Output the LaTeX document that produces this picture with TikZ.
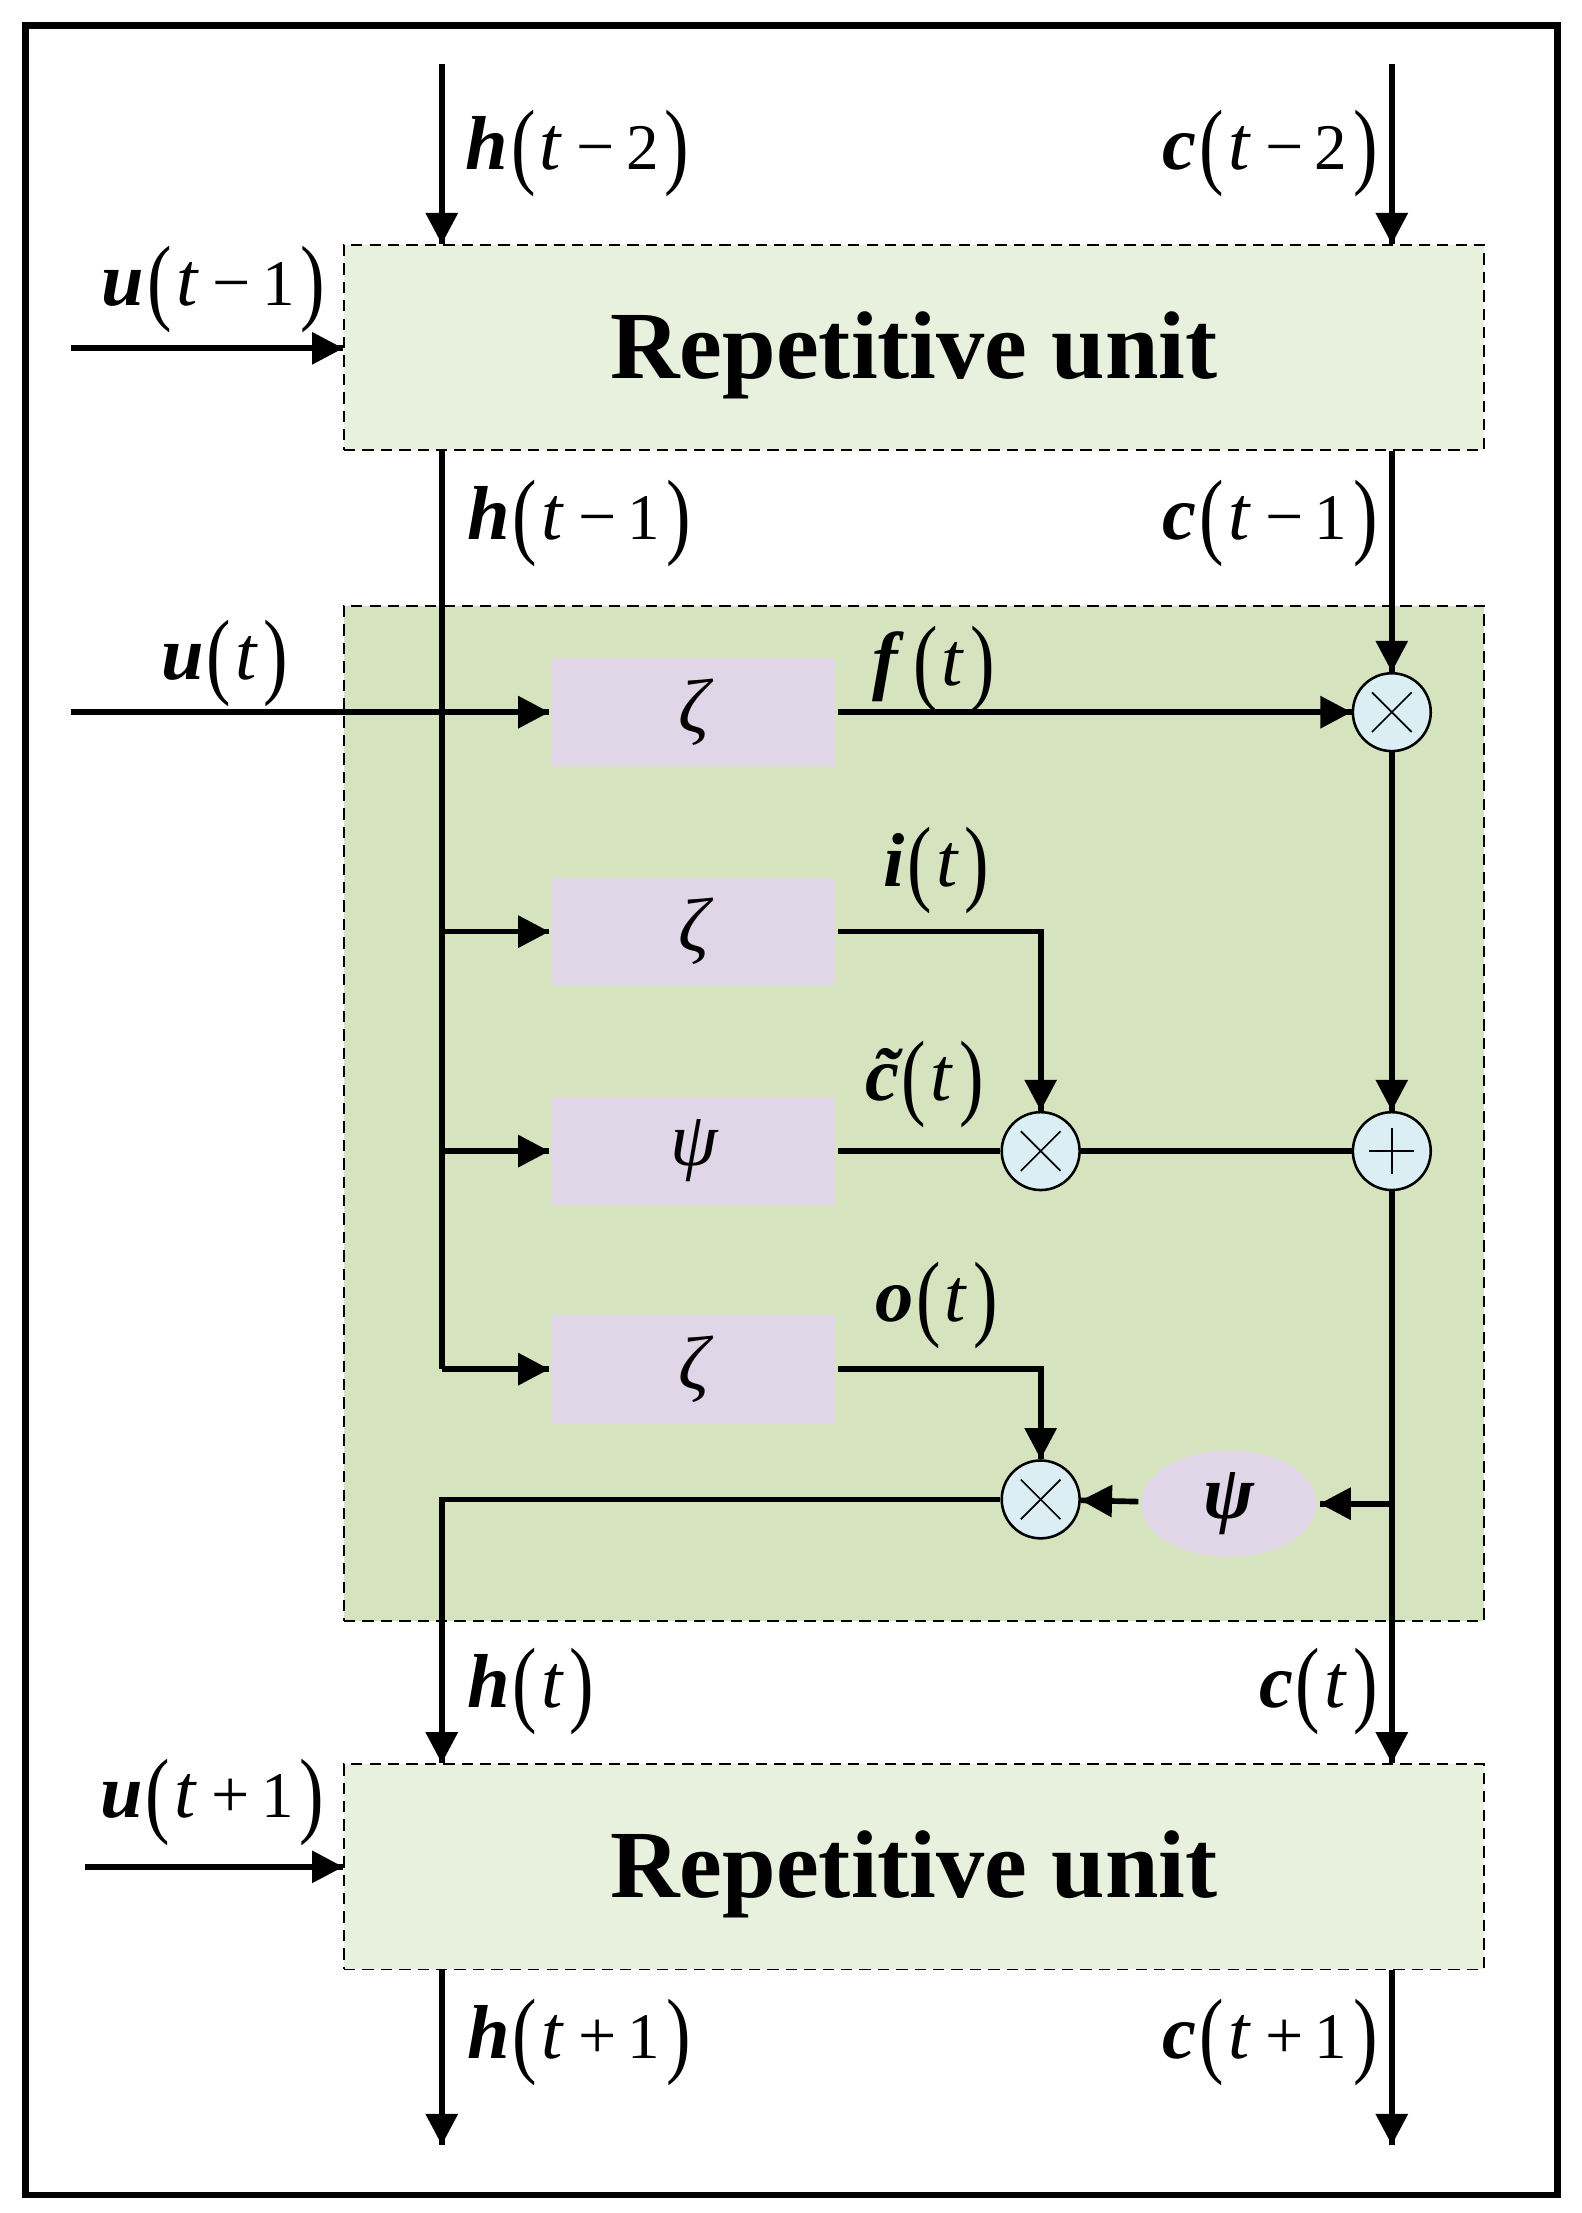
\documentclass[tikz,border=0pt]{standalone}
\usepackage{fontspec}
\setmainfont{Liberation Serif}
\usetikzlibrary{arrows.meta,shapes.geometric,decorations.markings}
\definecolor{unitgreen}{HTML}{E8F0DE}
\definecolor{cellgreen}{HTML}{D5E3BF}
\definecolor{gatepink}{HTML}{E1D6E8}
\definecolor{opblue}{HTML}{DAEEF3}
\newcommand{\Lp}{\kern1pt\raisebox{-2.5pt}{\fontsize{26}{26}\selectfont\scalebox{1}[1.3]{(}}\kern1.5pt}
\newcommand{\Rp}{\kern2pt\raisebox{-2.5pt}{\fontsize{26}{26}\selectfont\scalebox{1}[1.3]{)}}}
\newcommand{\Sig}[2]{\textbf{\textit{#1}}\Lp#2\Rp}
\newcommand{\Tv}{\textit{t}}
\newcommand{\Mi}{\kern5pt{\fontsize{24}{24}\selectfont −}\kern4pt}
\newcommand{\Pl}{\kern5pt{\fontsize{24}{24}\selectfont +}\kern4pt}
\newcommand{\Dg}[1]{{\fontsize{23}{23}\selectfont #1}}
\newcommand{\Ct}{\ooalign{\textbf{\textit{c}}\cr\hidewidth\kern2pt\textbf{˜}\hidewidth\cr}}
\tikzset{->/.style = {decoration={markings, mark=at position 1 with {\arrow{Triangle[length=11pt,width=11pt]}}}, postaction={decorate}}}
\tikzset{unit/.style = {draw, line width=0.6pt, dash pattern=on 4pt off 2.5pt, fill=unitgreen, minimum width=402.5pt, minimum height=72.5pt, text height=21.5pt, text depth=0pt, font=\fontsize{34}{36}\selectfont\bfseries}}
\tikzset{cell/.style = {draw, line width=0.6pt, dash pattern=on 4pt off 2.5pt, fill=cellgreen, minimum width=402.5pt, minimum height=358.5pt}}
\tikzset{gate/.style = {fill=gatepink, minimum width=100pt, minimum height=38pt, font=\fontsize{27}{30}\selectfont\itshape}}
\tikzset{op/.style = {draw, circle, fill=opblue, line width=0.9pt, minimum size=27.5pt, inner sep=0}}
\tikzset{mul/.style = {op, path picture={
	\draw[line width=0.6pt] ([shift={(-7pt,-7pt)}]path picture bounding box.center) -- ([shift={(7pt,7pt)}]path picture bounding box.center);
	\draw[line width=0.6pt] ([shift={(-7pt,7pt)}]path picture bounding box.center) -- ([shift={(7pt,-7pt)}]path picture bounding box.center);}}}
\tikzset{add/.style = {op, path picture={
	\draw[line width=0.6pt] ([shift={(-8pt,0pt)}]path picture bounding box.center) -- ([shift={(8pt,0pt)}]path picture bounding box.center);
	\draw[line width=0.6pt] ([shift={(0pt,-8pt)}]path picture bounding box.center) -- ([shift={(0pt,8pt)}]path picture bounding box.center);}}}
\tikzset{act/.style = {ellipse, fill=gatepink, minimum width=62pt, minimum height=37.5pt, inner sep=0, font=\fontsize{27}{30}\selectfont\bfseries\itshape}}
\tikzset{lab/.style = {inner sep=0, font=\fontsize{27}{30}\selectfont}}

\begin{document}
\begin{tikzpicture}[x=0.5pt, y=-0.5pt, line width=2pt]
	\useasboundingbox (0,0) rectangle (1117,1563);
	\draw[line width=2.2pt] (18,18) rectangle (1100,1550);
	% units and cell
	\node[unit] (prev) at (645.5,245.5) {Repetitive unit};
	\node[cell] (cell) at (645.5,786.5) {};
	\node[unit] (next) at (645.5,1318.5) {Repetitive unit};
	\node[gate] (fgate) at (490,503) {ζ};
	\node[gate] (igate) at (490,658) {ζ};
	\node[gate] (cgate) at (490,813) {ψ};
	\node[gate] (ogate) at (490,967) {ζ};
	\node[mul] (fmul) at (983,503) {};
	\node[mul] (imul) at (735,813) {};
	\node[add] (cadd) at (983,813) {};
	\node[mul] (omul) at (735,1059) {};
	\node[act] (tanh) at (868,1062) {ψ};
	\coordinate (hin) at (312,45);
	\coordinate (cin) at (983,45);
	\coordinate (hout) at (312,1515);
	\coordinate (cout) at (983,1515);
	\coordinate (uprev) at (50,246);
	\coordinate (unow) at (50,503);
	\coordinate (unext) at (60,1318.5);
	% connectors
	\draw[->] (hin) -- (hin |- prev.north);
	\draw[->] (cin) -- (cin |- prev.north);
	\draw[->] (uprev) -- (uprev -| prev.west);
	\draw (hin |- prev.south) -- (hin |- ogate);
	\draw[->] (hin |- igate) -- (igate.west);
	\draw[->] (hin |- cgate) -- (cgate.west);
	\draw[->] (hin |- ogate) -- (ogate.west);
	\draw[->] (unow) -- (fgate.west);
	\draw[->] (fgate) -- (fmul);
	\draw[->] (cin |- prev.south) -- (fmul.north);
	\draw[->] (fmul) -- (cadd);
	\draw[->] (igate.east) -| (imul.north);
	\draw (cgate) -- (imul) -- (cadd);
	\draw[->] (ogate.east) -| (omul.north);
	\draw[->] (cadd) -- (cin |- next.north);
	\draw[->] (cin |- tanh) -- (tanh);
	\draw[->] (tanh) -- (omul);
	\draw[->] (omul.west) -| (hin |- next.north);
	\draw[->] (unext) -- (next.west);
	\draw[->] (hin |- next.south) -- (hout);
	\draw[->] (cin |- next.south) -- (cout);
	% labels
	\node[lab, anchor=base west] (lh2) at (327,120) {\Sig{h}{\Tv\Mi\Dg{2}}};
	\node[lab, anchor=base east] (lc2) at (975,120) {\Sig{c}{\Tv\Mi\Dg{2}}};
	\node[lab, anchor=base west] (lu1) at (70,216) {\Sig{u}{\Tv\Mi\Dg{1}}};
	\node[lab, anchor=base west] (lh1) at (328,381) {\Sig{h}{\Tv\Mi\Dg{1}}};
	\node[lab, anchor=base east] (lc1) at (975,381) {\Sig{c}{\Tv\Mi\Dg{1}}};
	\node[lab, anchor=base west] (lu) at (112,480) {\Sig{u}{\Tv}};
	\node[lab, anchor=base west] (lf) at (614,484) {\Sig{f\,}{\Tv}};
	\node[lab, anchor=base west] (li) at (622,626) {\Sig{i}{\Tv}};
	\node[lab, anchor=base west] (lct) at (609,777) {\Sig{\Ct}{\Tv}};
	\node[lab, anchor=base west] (lo) at (616,933) {\Sig{o}{\Tv}};
	\node[lab, anchor=base west] (lh) at (328,1206) {\Sig{h}{\Tv}};
	\node[lab, anchor=base east] (lc) at (975,1206) {\Sig{c}{\Tv}};
	\node[lab, anchor=base west] (lu2) at (69,1284) {\Sig{u}{\Tv\Pl\Dg{1}}};
	\node[lab, anchor=base west] (lh3) at (328,1454) {\Sig{h}{\Tv\Pl\Dg{1}}};
	\node[lab, anchor=base east] (lc3) at (975,1454) {\Sig{c}{\Tv\Pl\Dg{1}}};
\end{tikzpicture}
\end{document}
